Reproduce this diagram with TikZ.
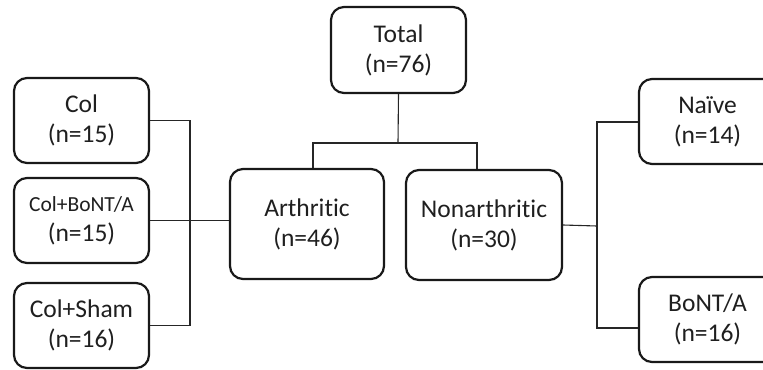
\documentclass[tikz,border=0pt]{standalone}
\usepackage{fontspec}
\setmainfont[Ligatures=NoCommon]{Carlito}
\begin{document}
\begin{tikzpicture}[x=1bp,y=-1bp,
  grp/.style={draw=black!90, line width=2.2bp, rounded corners=13bp,
    align=center, inner sep=0pt, text=black!88, font=\fontsize{25.5bp}{30bp}\selectfont},
  conn/.style={draw=black!85, line width=1.1bp}]
\useasboundingbox (0,0) rectangle (763,369);
\clip (0,0) rectangle (763,369);
% nodes
\node[grp, minimum width=135bp, minimum height=86bp] (total) at (398.5,50) {Total\\(n=76)};
\node[grp, minimum width=135bp, minimum height=85bp] (col) at (81.5,120.5) {Col\\(n=15)};
\node[grp, minimum width=135bp, minimum height=85bp] (colb) at (81.5,220.5) {{\fontsize{21.5bp}{30bp}\selectfont Col+BoNT/A}\\(n=15)};
\node[grp, minimum width=135bp, minimum height=85bp] (sham) at (81.5,325.5) {Col+Sham\\(n=16)};
\node[grp, minimum width=154bp, minimum height=110bp] (arth) at (307,224) {Arthritic\\(n=46)};
\node[grp, minimum width=156bp, minimum height=110bp] (non) at (484,225) {Nonarthritic\\(n=30)};
\node[grp, minimum width=137bp, minimum height=85bp] (naive) at (707.5,121.5) {Naïve\\(n=14)};
\node[grp, minimum width=137bp, minimum height=85bp] (bont) at (707.5,319.5) {BoNT/A\\(n=16)};
% junction coordinates
\coordinate (jL) at (190,221);
\coordinate (tJ) at (398,143);
\coordinate (aT) at (313,143);
\coordinate (nT) at (477,143);
\coordinate (jR) at (597,226);
\coordinate (rTop) at (597,122);
\coordinate (rBot) at (597,328);
% connectors
\draw[conn] (col.east) -| (jL) |- (sham.east);
\draw[conn] (colb.east) -- (colb.east -| arth.west);
\draw[conn] (total.south) -- (tJ);
\draw[conn] (aT |- arth.north) -- (aT) -- (nT) -- (nT |- non.north);
\draw[conn] (non.east) -- (jR);
\draw[conn] (rTop -| naive.west) -- (rTop) -- (rBot) -- (rBot -| bont.west);
\end{tikzpicture}
\end{document}
